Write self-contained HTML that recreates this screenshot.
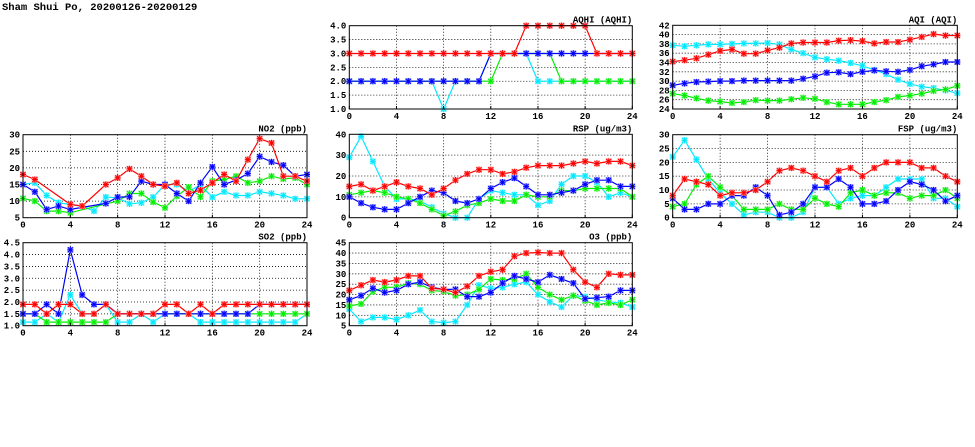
<!DOCTYPE html>
<html><head><meta charset="utf-8">
<style>
html,body{margin:0;padding:0;background:#fff;}
svg{display:block;font-family:"Liberation Mono","DejaVu Sans Mono",monospace;}
</style></head>
<body>
<svg id="c" width="975" height="447" xmlns="http://www.w3.org/2000/svg">
<text x="2" y="10" font-size="10.5" font-weight="bold" fill="#000">Sham Shui Po, 20200126-20200129</text>
</svg>
<script>
const hours = [0,1,2,3,4,5,6,7,8,9,10,11,12,13,14,15,16,17,18,19,20,21,22,23,24];
const xTicks = [0,4,8,12,16,20,24];
const seriesColors = ["#00e8ff","#00ee00","#0000ff","#ff0000"];

const no2Cyan = [15,15.5,11.7,9.5,9,8.5,7,11.2,11,9.2,9.5,11.2,15,15,13,14.8,11.2,12.8,11.7,11.7,12.8,12.3,11.7,10.7,10.7];
const no2Green = [10.8,10,7,7,6.5,null,null,null,10,12.3,12.3,9.7,8,11.5,14.2,11.3,16,16.5,17.5,15.5,16,17.5,16.7,17,15];
const no2Blue = [15,12.8,7.5,8.5,7.5,null,null,9.3,11.2,11.3,16,15,15,12.3,10,15.5,20.3,15,16.3,18.3,23.4,21.8,20.8,17.5,18];
const no2Red = [18,16.5,null,null,9,8.5,null,15,17,19.7,17.5,15,14.5,15.5,12.3,13.3,15.5,18,16,22.5,28.8,27.5,17.5,17.5,16];
const no2Ticks = [5,10,15,20,25,30];

const so2Cyan = [1.15,1.15,1.5,1.15,2.3,1.5,1.5,1.9,1.15,1.15,1.5,1.15,1.5,1.5,1.5,1.15,1.15,1.15,1.15,1.15,1.15,1.15,1.15,1.15,1.5];
const so2Green = [1.5,1.5,1.15,1.15,1.15,1.15,1.15,1.15,1.5,1.5,1.5,1.5,1.5,1.5,1.5,1.5,1.5,1.5,1.5,1.5,1.5,1.5,1.5,1.5,1.5];
const so2Blue = [1.5,1.5,1.9,1.5,4.2,2.3,1.9,1.9,1.5,1.5,1.5,1.5,1.5,1.5,1.5,1.5,1.5,1.5,1.5,1.5,1.9,1.9,1.9,1.9,1.9];
const so2Red = [1.9,1.9,1.5,1.9,1.9,1.5,1.5,1.9,1.5,1.5,1.5,1.5,1.9,1.9,1.5,1.9,1.5,1.9,1.9,1.9,1.9,1.9,1.9,1.9,1.9];
const so2Ticks = [1.0,1.5,2.0,2.5,3.0,3.5,4.0,4.5];

const aqhiCyan = [2,2,2,2,2,2,2,2,1,2,2,2,3,3,3,3,2,2,2,2,2,2,2,2,2];
const aqhiGreen = [2,2,2,2,2,2,2,2,2,2,2,2,2,3,3,3,3,3,2,2,2,2,2,2,2];
const aqhiBlue = [2,2,2,2,2,2,2,2,2,2,2,2,3,3,3,3,3,3,3,3,3,3,3,3,3];
const aqhiRed = [3,3,3,3,3,3,3,3,3,3,3,3,3,3,3,4,4,4,4,4,4,3,3,3,3];
const aqhiTicks = [1.0,1.5,2.0,2.5,3.0,3.5,4.0];

const rspCyan = [29,39,27,15,9,9,8,5,2,0,0,9,13,12,11,11,6,8,16,20,20,17,10,12,10];
const rspGreen = [11,12,13,12,10,9,7,4,1,3,6,7,9,8,8,11,10,10,13,13,14,14,14,14,10];
const rspBlue = [10,7,5,4,4,7,10,13,12,8,7,9,14,17,19,15,11,11,12,13,16,18,18,15,15];
const rspRed = [15,16,13,15,17,15,14,11,14,18,21,23,23,21,22,24,25,25,25,26,27,26,27,27,25];
const rspTicks = [0,10,20,30,40];

const o3Cyan = [13,7,9,9,8,10,12.5,7,6.5,7,15,24.5,23,23.5,25,26,20,16.5,14,19.5,19,17.5,16.5,16,14];
const o3Green = [14.5,15.5,21.5,23.5,23.5,25.5,25,22,21.5,19.5,20,22.5,27.5,27,27.5,30,23.5,20,17.5,19.5,17,15,16,15,17.5];
const o3Blue = [17.5,19.5,23,21,22,25,26,23.5,22.5,22.5,19,19,21,25.5,29,27.5,26,29.5,27.5,25.5,18,18.5,19,22,22];
const o3Red = [22,24.5,27,26,27,29,29,23,22.5,21,24,29,31,32,38.5,40,40.3,40,40,32,26,23.5,30,29.5,29.5];
const o3Ticks = [5,10,15,20,25,30,35,40,45];

const aqiCyan = [37.7,37.5,37.7,37.9,37.9,38,38.1,38.1,38.2,37.9,36.8,36,35.1,34.7,34.4,33.9,33.3,32.4,31.5,30.3,29.4,28.8,28.5,28.0,27.4];
const aqiGreen = [27.3,26.9,26.3,25.8,25.6,25.3,25.5,25.9,25.8,25.8,26.1,26.4,26.2,25.5,25,25,25,25.5,25.9,26.6,26.9,27.3,27.9,28.2,29];
const aqiBlue = [29.1,29.5,29.8,29.9,30,30,30.1,30.1,30.1,30.1,30.1,30.5,31,31.8,31.9,31.5,32,32.3,32.1,32,32.4,33.2,33.6,34.1,34.1];
const aqiRed = [34.2,34.5,34.9,35.7,36.5,36.8,35.9,35.9,36.6,37.2,38.1,38.3,38.3,38.3,38.7,38.8,38.6,38.1,38.4,38.4,38.9,39.5,40.1,39.8,39.8];
const aqiTicks = [24,26,28,30,32,34,36,38,40,42];

const fspCyan = [22,28,21,14,9,5,1,2,2,0,0,2,11,11,5,7,8,8,11,14,14,14,7,7,4];
const fspGreen = [4,5,12,15,11,8,3,3,3,5,3,3,7,5,4,9,10,8,9,9,7,8,8,10,7];
const fspBlue = [7,3,3,5,5,8,8,11,8,1,2,5,11,11,14,11,5,5,6,10,13,12,10,6,8];
const fspRed = [8,14,13,12,8,9,9,10,13,17,18,17,15,13,17,18,15,18,20,20,20,18,18,15,13];
const fspTicks = [0,5,10,15,20,25,30];

const NS = "http://www.w3.org/2000/svg";
const svg = document.getElementById("c");
function mk(tag, attrs, parent){
  const e = document.createElementNS(NS, tag);
  for (const k in attrs) e.setAttribute(k, attrs[k]);
  (parent||svg).appendChild(e);
  return e;
}
function lighten(c){
  return {"#00e8ff":"#9ff6ff","#00ee00":"#a6f7a6","#0000ff":"#9a9aff","#ff0000":"#ffa0a0"}[c];
}

function panel(name, title, box, ticks, ymin, ymax, dec, series){
  const g = mk("g", {});
  
  
  const [x0,x1,yTop,yBot] = box;
  const sx = v => x0 + (v - 0) / 24 * (x1 - x0);
  const sy = v => yBot - (v - ymin) / (ymax - ymin) * (yBot - yTop);
  // grid
  xTicks.forEach(t => {
    if (t===0||t===24) return;
    const l = mk("line", {x1:sx(t),x2:sx(t),y1:yTop,y2:yBot,stroke:"#000","stroke-width":0.8,"stroke-dasharray":"1,2"}, g);
    
    
  });
  ticks.forEach(t => {
    if (t===ymin||t===ymax) return;
    const l = mk("line", {x1:x0,x2:x1,y1:sy(t),y2:sy(t),stroke:"#000","stroke-width":0.8,"stroke-dasharray":"1,2"}, g);
    
    
  });
  // series
  series.forEach((vals, si) => {
    const col = seriesColors[si];
    let pts = [];
    vals.forEach((v,i) => { if (v!==null) pts.push(sx(hours[i]).toFixed(1)+","+sy(v).toFixed(1)); });
    const pl = mk("polyline", {points:pts.join(" "),fill:"none",stroke:col,"stroke-width":1.2}, g);
    
    
    vals.forEach((v,i) => {
      if (v===null) return;
      const cx = sx(hours[i]), cy = sy(v);
      const m = mk("g", {}, g);
      
      
      mk("rect", {x:cx-3,y:cy-3,width:6,height:6,fill:lighten(col)}, m);
      mk("path", {d:`M${cx-3},${cy}H${cx+3}M${cx},${cy-3.2}V${cy+3.2}M${cx-2.5},${cy-2.5}L${cx+2.5},${cy+2.5}M${cx-2.5},${cy+2.5}L${cx+2.5},${cy-2.5}`,stroke:col,"stroke-width":1}, m);
    });
  });
  // frame
  const fr = mk("rect", {x:x0,y:yTop,width:x1-x0,height:yBot-yTop,fill:"none",stroke:"#000","stroke-width":1}, g);
  
  
  // ticks labels
  xTicks.forEach(t => {
    const tx = mk("text", {x:sx(t),y:yBot+10,"font-size":9,"font-weight":"bold","text-anchor":"middle"}, g);
    tx.textContent = t;
    
    
    mk("line",{x1:sx(t),x2:sx(t),y1:yBot,y2:yBot-3,stroke:"#000"},g);
  });
  ticks.forEach(t => {
    const ty = mk("text", {x:x0-3,y:sy(t)+3,"font-size":9,"font-weight":"bold","text-anchor":"end"}, g);
    ty.textContent = t.toFixed(dec);
    
    
  });
  const tt = mk("text", {x:x1,y:yTop-3,"font-size":9,"font-weight":"bold","text-anchor":"end"}, g);
  tt.textContent = title;
  
  
}

panel("no2","NO2 (ppb)",[23,307,134.7,217.7],no2Ticks,5,30,0,[no2Cyan,no2Green,no2Blue,no2Red]);
panel("so2","SO2 (ppb)",[23,307,242.7,325.7],so2Ticks,1,4.5,1,[so2Cyan,so2Green,so2Blue,so2Red]);
panel("aqhi","AQHI (AQHI)",[349.3,632.3,25.7,109],aqhiTicks,1,4,1,[aqhiCyan,aqhiGreen,aqhiBlue,aqhiRed]);
panel("rsp","RSP (ug/m3)",[349.3,632.3,134.3,217.7],rspTicks,0,40,0,[rspCyan,rspGreen,rspBlue,rspRed]);
panel("o3","O3 (ppb)",[349.3,632.3,242.7,325.7],o3Ticks,5,45,0,[o3Cyan,o3Green,o3Blue,o3Red]);
panel("aqi","AQI (AQI)",[672.7,957.3,25.3,109],aqiTicks,24,42,0,[aqiCyan,aqiGreen,aqiBlue,aqiRed]);
panel("fsp","FSP (ug/m3)",[672.7,957.3,134.7,217.7],fspTicks,0,30,0,[fspCyan,fspGreen,fspBlue,fspRed]);
</script>
</body></html>
